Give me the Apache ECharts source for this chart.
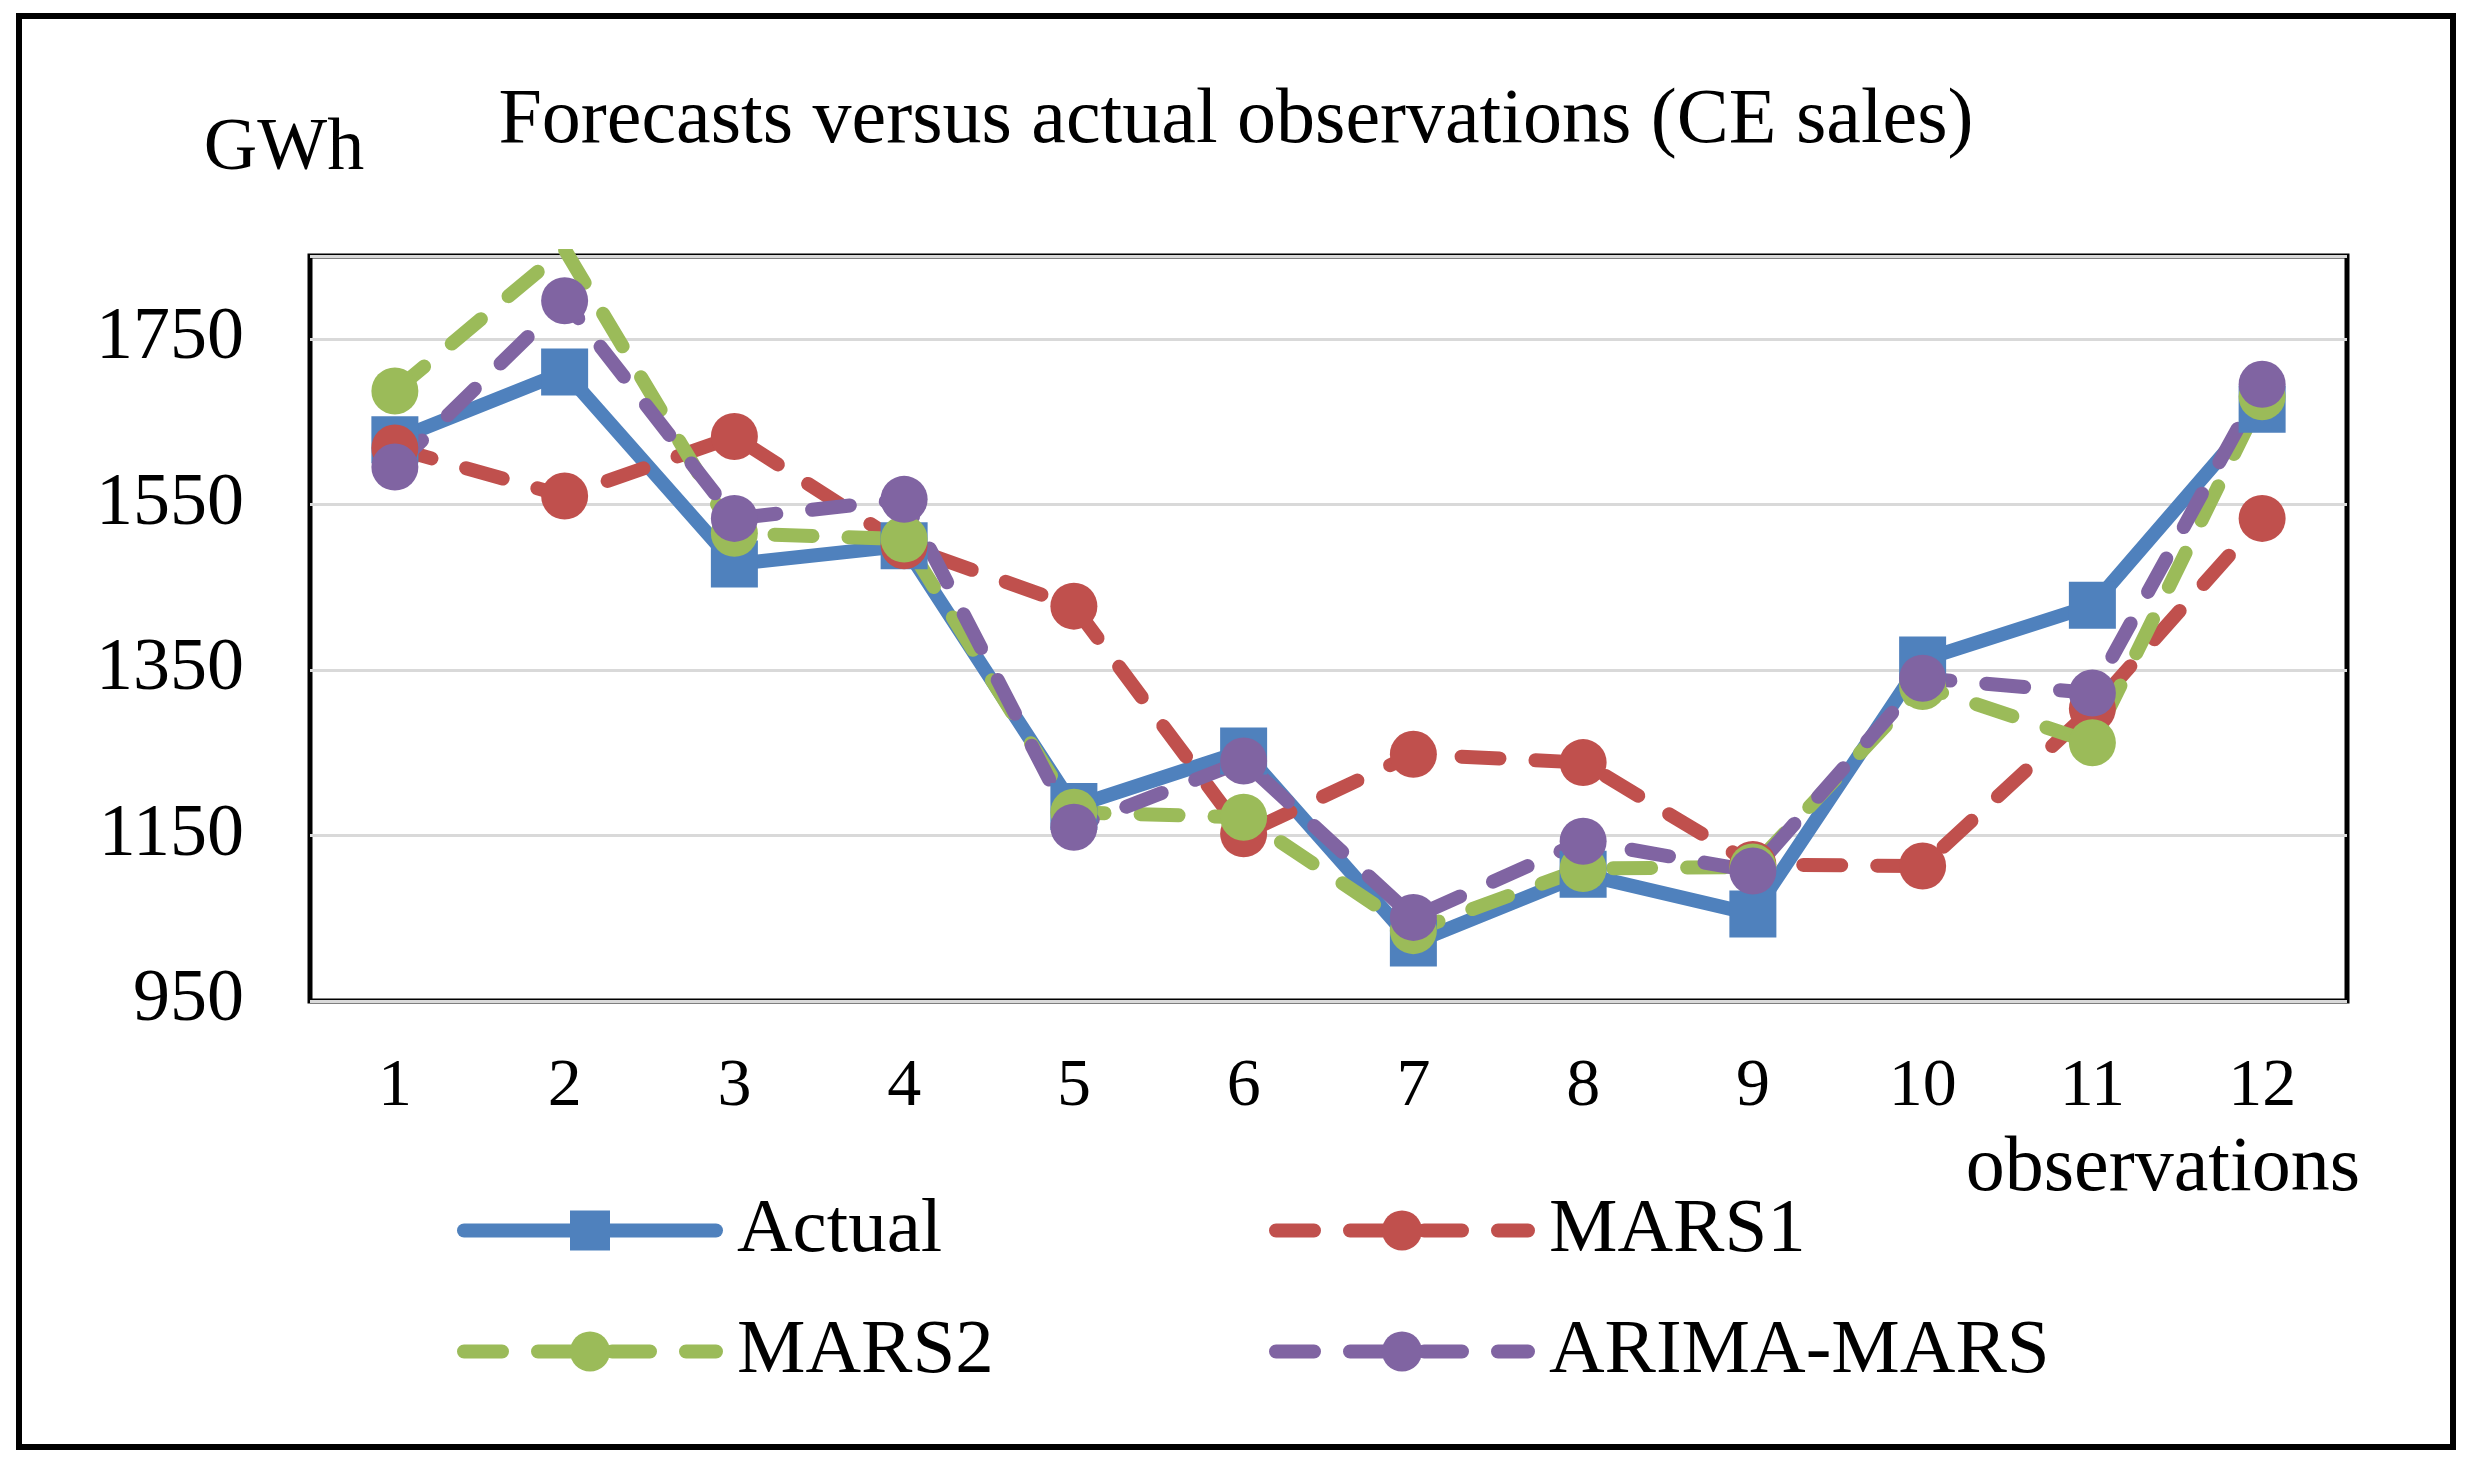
<!DOCTYPE html>
<html>
<head>
<meta charset="utf-8">
<script src="https://cdn.jsdelivr.net/npm/echarts@6/dist/echarts.min.js"></script>
<style>
html,body{margin:0;padding:0;background:#fff;}
#chart{width:2472px;height:1466px;}
</style>
</head>
<body>
<div id="chart"></div>
<script>
const categories = ['1','2','3','4','5','6','7','8','9','10','11','12'];
const actual    = [1628,1710,1478,1500,1185,1252,1020,1103,1055,1362,1428,1665];
const mars1     = [1618,1560,1632,1500,1427,1152,1248,1238,1115,1113,1303,1533];
const mars2     = [1687,1858,1515,1508,1178,1172,1035,1110,1112,1330,1262,1680];
const arimaMars = [1595,1796,1533,1556,1160,1240,1051,1143,1107,1340,1322,1695];
const seriesNames = ['Actual','MARS1','MARS2','ARIMA-MARS'];
const yTicks = {min: 950, max: 1850, interval: 200};

const FONT = 'Liberation Serif';
const colors = ['#4F81BD','#C0504D','#9BBB59','#8064A2'];
const values = [actual, mars1, mars2, arimaMars];
const LW = 14;
const DASH = [38, 36];

const chart = echarts.init(document.getElementById('chart'));

const series = seriesNames.map((name, i) => ({
  name: name,
  type: 'line',
  data: values[i],
  symbol: i === 0 ? 'rect' : 'circle',
  symbolSize: 47,
  showAllSymbol: true,
  clip: true,
  animation: false,
  itemStyle: {color: colors[i]},
  lineStyle: {
    color: colors[i],
    width: LW,
    type: i === 0 ? 'solid' : DASH,
    cap: 'round',
    join: 'round'
  }
}));

const legendPos = [
  {left: 457, top: 1192},
  {left: 1269, top: 1192},
  {left: 457, top: 1313},
  {left: 1269, top: 1313}
];
const legends = seriesNames.map((name, i) => ({
  data: [name],
  left: legendPos[i].left,
  top: legendPos[i].top,
  itemWidth: 252,
  itemHeight: 50,
  itemGap: 0,
  padding: 0,
  lineStyle: {width: LW, type: i === 0 ? 'solid' : DASH, cap: 'round', color: colors[i]},
  textStyle: {fontFamily: FONT, fontSize: 77, color: '#000', padding: [0,0,0,16]}
}));

chart.setOption({
  animation: false,
  backgroundColor: '#fff',
  grid: {
    left: 310, right: 125, top: 256, bottom: 465,
    show: true, borderColor: '#000', borderWidth: 5, backgroundColor: '#fff', z: 0
  },
  xAxis: {
    type: 'category',
    data: categories,
    boundaryGap: true,
    axisLine: {show: false},
    axisTick: {show: false},
    axisLabel: {fontFamily: FONT, fontSize: 68, color: '#000', margin: 52}
  },
  yAxis: {
    type: 'value',
    min: yTicks.min, max: yTicks.max, interval: yTicks.interval,
    axisLine: {show: false},
    axisTick: {show: false},
    axisLabel: {fontFamily: FONT, fontSize: 74, color: '#000', margin: 66, showMaxLabel: false,
                formatter: v => String(v)},
    splitLine: {lineStyle: {color: '#D9D9D9', width: 3}}
  },
  legend: legends,
  series: series,
  graphic: [
    {type: 'rect', shape: {x: 19, y: 16, width: 2434, height: 1431},
     style: {fill: null, stroke: '#000', lineWidth: 6}, z: 100},
    {type: 'text', x: 1236, y: 122,
     style: {text: 'Forecasts versus actual observations (CE sales)', fontFamily: FONT, fontSize: 78,
             fill: '#000', textAlign: 'center', textVerticalAlign: 'middle'}},
    {type: 'text', x: 284, y: 150,
     style: {text: 'GWh', fontFamily: FONT, fontSize: 74, fill: '#000', textAlign: 'center', textVerticalAlign: 'middle'}},
    {type: 'text', x: 2360, y: 1170,
     style: {text: 'observations', fontFamily: FONT, fontSize: 78, fill: '#000', textAlign: 'right', textVerticalAlign: 'middle'}}
  ]
});
</script>
</body>
</html>
